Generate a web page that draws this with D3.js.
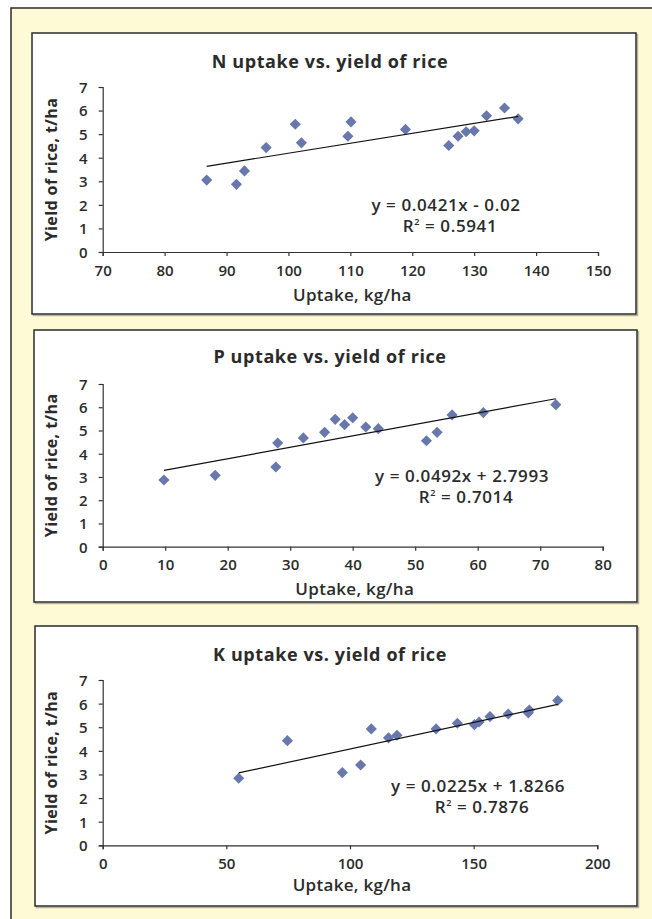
<!DOCTYPE html>
<html>
<head>
<meta charset="utf-8">
<script src="https://cdn.jsdelivr.net/npm/d3@7.9.0/dist/d3.min.js"></script>
<style>
  body { margin: 0; background: #fff; }
  svg text { font-family: "Open Sans", "Noto Sans", sans-serif; fill: #2b2b2b; }
</style>
</head>
<body>
<svg id="chart" width="652" height="919"></svg>
<script>
// N uptake vs yield
const nUptake = [86.8, 91.6, 92.9, 96.4, 101.1, 102.1, 109.6, 110.1, 118.9, 125.9, 127.4, 128.7, 130.0, 132.0, 134.9, 137.1];
const nYield  = [3.05, 2.87, 3.44, 4.43, 5.42, 4.63, 4.91, 5.52, 5.20, 4.52, 4.91, 5.10, 5.14, 5.78, 6.11, 5.65];

// P uptake vs yield
const pUptake = [9.8, 18.0, 27.7, 28.0, 32.1, 35.5, 37.2, 38.7, 40.0, 42.1, 44.1, 51.8, 53.5, 55.9, 60.9, 72.5];
const pYield  = [2.87, 3.07, 3.43, 4.46, 4.68, 4.92, 5.48, 5.25, 5.55, 5.15, 5.08, 4.56, 4.92, 5.67, 5.77, 6.11];

// K uptake vs yield
const kUptake = [55.0, 74.7, 96.9, 104.3, 108.6, 115.6, 119.0, 134.8, 143.4, 150.3, 152.2, 156.6, 164.0, 172.1, 172.5, 184.0];
const kYield  = [2.84, 4.43, 3.08, 3.40, 4.93, 4.55, 4.66, 4.93, 5.17, 5.11, 5.22, 5.45, 5.56, 5.61, 5.73, 6.13];

const titles = ["N uptake vs. yield of rice", "P uptake vs. yield of rice", "K uptake vs. yield of rice"];
const xDomains = [[70, 150], [0, 80], [0, 200]];
const xTicks = [[70, 80, 90, 100, 110, 120, 130, 140, 150], [0, 10, 20, 30, 40, 50, 60, 70, 80], [0, 50, 100, 150, 200]];
const yTicks = [0, 1, 2, 3, 4, 5, 6, 7];
const slopes = [0.0421, 0.0492, 0.0225];
const intercepts = [-0.02, 2.7993, 1.8266];
const equations = ["y = 0.0421x - 0.02", "y = 0.0492x + 2.7993", "y = 0.0225x + 1.8266"];
const rSquared = ["0.5941", "0.7014", "0.7876"];

const svg = d3.select("#chart");

// outer yellow frame
svg.append("rect").attr("x", 11).attr("y", 8).attr("width", 660).attr("height", 930)
  .attr("fill", "#fffad6").attr("stroke", "#2b2b2b").attr("stroke-width", 1.5);

const panels = [
  { box: [32, 33, 604, 281], plot: [102.7, 87, 598, 252], title: 68, eq: [446, 211], xlab: 301 },
  { box: [34, 330, 603, 272], plot: [102.7, 384, 602.7, 546.7], title: 363, eq: [462, 482], xlab: 595 },
  { box: [35, 626, 602, 280], plot: [102.7, 680, 597.3, 845.3], title: 661, eq: [478, 792], xlab: 891 }
];

const xData = [nUptake, pUptake, kUptake];
const yData = [nYield, pYield, kYield];

panels.forEach((p, i) => {
  const [bx, by, bw, bh] = p.box;
  // soft shadow then panel
  svg.append("rect").attr("x", bx + 1.5).attr("y", by + 1.5).attr("width", bw).attr("height", bh)
    .attr("fill", "none").attr("stroke", "#b5b2a0").attr("stroke-width", 1.5);
  svg.append("rect").attr("x", bx).attr("y", by).attr("width", bw).attr("height", bh)
    .attr("fill", "#fff").attr("stroke", "#2b2b2b").attr("stroke-width", 1.5);

  const [x0, y0, x1, y1] = p.plot;
  const x = d3.scaleLinear().domain(xDomains[i]).range([x0, x1]);
  const y = d3.scaleLinear().domain([0, 7]).range([y1, y0]);

  const g = svg.append("g");

  // axes
  const xAxis = g.append("g").attr("transform", `translate(0,${y1})`)
    .call(d3.axisBottom(x).tickValues(xTicks[i]).tickFormat(d3.format("d")).tickSize(4).tickPadding(9));
  const yAxis = g.append("g").attr("transform", `translate(${x0},0)`)
    .call(d3.axisLeft(y).tickValues(yTicks).tickFormat(d3.format("d")).tickSize(4).tickPadding(11));
  [xAxis, yAxis].forEach(a => {
    a.select(".domain").attr("stroke", "#333").attr("stroke-width", 1.2);
    a.selectAll(".tick line").attr("stroke", "#333").attr("stroke-width", 1.2);
    a.selectAll(".tick text").attr("font-size", 15).attr("font-weight", 600).attr("fill", "#2b2b2b");
  });
  yAxis.selectAll(".tick text").attr("dy", "0.36em");

  // points
  const pts = d3.zip(xData[i], yData[i]);
  g.selectAll(".pt").data(pts).join("path")
    .attr("d", d3.symbol(d3.symbolSquare, 62)())
    .attr("transform", d => `translate(${x(d[0])},${y(d[1])}) rotate(45)`)
    .attr("fill", "#6878ac");

  // trend line
  const xmin = d3.min(xData[i]), xmax = d3.max(xData[i]);
  const line = d3.line().x(d => x(d)).y(d => y(slopes[i] * d + intercepts[i]));
  g.append("path").datum([xmin, xmax]).attr("d", line)
    .attr("fill", "none").attr("stroke", "#111").attr("stroke-width", 1.2);

  // title
  g.append("text").attr("x", 330).attr("y", p.title).attr("text-anchor", "middle")
    .attr("font-size", 18).attr("font-weight", 700).attr("letter-spacing", 0.6).text(titles[i]);

  // equation
  g.append("text").attr("x", p.eq[0]).attr("y", p.eq[1]).attr("text-anchor", "middle")
    .attr("font-size", 17).attr("font-weight", 600).attr("letter-spacing", 0.6).text(equations[i]);
  const r = g.append("text").attr("x", p.eq[0] + 4).attr("y", p.eq[1] + 21).attr("text-anchor", "middle")
    .attr("font-size", 17).attr("font-weight", 600).attr("letter-spacing", 0.6);
  r.append("tspan").text("R");
  r.append("tspan").attr("font-size", 9).attr("dy", -7).text("2");
  r.append("tspan").attr("dy", 7).text(" = " + rSquared[i]);

  // axis labels
  g.append("text").attr("x", (x0 + x1) / 2 + 2).attr("y", p.xlab).attr("text-anchor", "middle")
    .attr("font-size", 17).attr("font-weight", 600).attr("letter-spacing", 0.3).text("Uptake, kg/ha");
  g.append("text").attr("transform", `translate(${x0 - 46},${(y0 + y1) / 2}) rotate(-90)`)
    .attr("text-anchor", "middle").attr("font-size", 16).attr("font-weight", 700).attr("letter-spacing", 0.4)
    .text("Yield of rice, t/ha");
});
</script>
</body>
</html>
